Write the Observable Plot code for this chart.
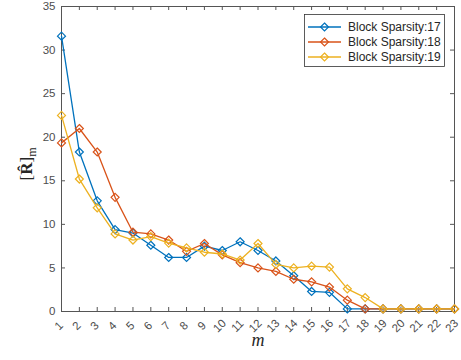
<!DOCTYPE html>
<html>
<head>
<meta charset="utf-8">
<script src="https://cdn.jsdelivr.net/npm/d3@7"></script>
<script src="https://cdn.jsdelivr.net/npm/@observablehq/plot@0.6"></script>
<style>
  html, body { margin: 0; padding: 0; background: #fff; }
  svg { display: block; }
</style>
</head>
<body>
<div id="chart"></div>
<script>
const ms = [1,2,3,4,5,6,7,8,9,10,11,12,13,14,15,16,17,18,19,20,21,22,23];
const seriesNames = ["Block Sparsity:17", "Block Sparsity:18", "Block Sparsity:19"];
const colors = ["#0072BD", "#D95319", "#EDB120"];
const s17 = [31.6, 18.3, 12.7, 9.4, 9.0, 7.6, 6.2, 6.2, 7.5, 7.0, 8.0, 7.0, 5.8, 4.1, 2.3, 2.2, 0.3, 0.3, 0.3, 0.3, 0.3, 0.3, 0.3];
const s18 = [19.35, 21.0, 18.3, 13.1, 9.1, 8.9, 8.2, 6.9, 7.8, 6.5, 5.6, 5.0, 4.6, 3.7, 3.4, 2.8, 1.3, 0.3, 0.3, 0.3, 0.3, 0.3, 0.3];
const s19 = [22.5, 15.2, 11.9, 8.9, 8.2, 8.6, 7.85, 7.3, 6.8, 6.6, 5.9, 7.8, 5.4, 5.0, 5.2, 5.1, 2.6, 1.6, 0.3, 0.3, 0.3, 0.3, 0.3];
const yTicks = [0, 5, 10, 15, 20, 25, 30, 35];

const allValues = [s17, s18, s19];
const data = [];
allValues.forEach((vals, i) => vals.forEach((v, j) => data.push({m: ms[j], v, s: seriesNames[i]})));

const axisColor = "#555";
const labelColor = "#4d4d4d";
const font = "'Liberation Sans', Arial, Helvetica, sans-serif";

const seriesMarks = [];
seriesNames.forEach((name) => {
  const d = data.filter(r => r.s === name);
  seriesMarks.push(Plot.line(d, {x: "m", y: "v", stroke: "s", strokeWidth: 1.3}));
  seriesMarks.push(Plot.dot(d, {x: "m", y: "v", stroke: "s", symbol: "diamond2", r: 3.6, fill: "none", strokeWidth: 1.2}));
});

const chart = Plot.plot({
  width: 461,
  height: 360,
  marginLeft: 61,
  marginRight: 7,
  marginTop: 6,
  marginBottom: 49,
  style: {fontFamily: font, background: "#fff"},
  x: {domain: [1, 23], axis: null},
  y: {domain: [0, 35], axis: null},
  color: {domain: seriesNames, range: colors},
  marks: [
    Plot.tickX(ms, {x: d => d, insetTop: 301, stroke: axisColor, strokeWidth: 1}),
    Plot.tickX(ms, {x: d => d, insetBottom: 301, stroke: axisColor, strokeWidth: 1}),
    Plot.tickY(yTicks, {y: d => d, insetRight: 389, stroke: axisColor, strokeWidth: 1}),
    Plot.tickY(yTicks, {y: d => d, insetLeft: 389, stroke: axisColor, strokeWidth: 1}),
    Plot.frame({stroke: axisColor, strokeWidth: 1}),
    Plot.text(yTicks, {y: d => d, text: d => String(d), frameAnchor: "left", dx: -6, textAnchor: "end", fill: labelColor, fontSize: 11.5}),
    Plot.text(ms, {x: d => d, text: d => String(d), frameAnchor: "bottom", dy: 17, rotate: -45, textAnchor: "middle", fill: labelColor, fontSize: 11.5}),
    Plot.text(["m"], {text: d => d, frameAnchor: "bottom", dy: 34, fontStyle: "italic", fontFamily: "'Liberation Serif', 'DejaVu Serif', serif", fontSize: 18, fill: "#262626"}),
    ...seriesMarks
  ]
});

document.getElementById("chart").appendChild(chart);

const svg = d3.select(chart);

// y-axis label: [R̂]_m
const yl = svg.append("text")
  .attr("transform", "translate(32,164) rotate(-90)")
  .attr("text-anchor", "middle")
  .attr("font-family", "'Liberation Serif', 'DejaVu Serif', serif")
  .attr("font-size", 17)
  .attr("fill", "#262626");
yl.append("tspan").text("[");
yl.append("tspan").attr("font-weight", "bold").text("R\u0302");
yl.append("tspan").text("]");
yl.append("tspan").attr("font-size", 12).attr("dy", 4).text("m");

// legend
const lg = svg.append("g").attr("font-family", font).attr("font-size", 12).attr("text-anchor", "start");
lg.append("rect").attr("x", 304.5).attr("y", 14.5).attr("width", 140).attr("height", 52)
  .attr("fill", "#fff").attr("stroke", "#333").attr("stroke-width", 0.8);
const rowY = [27, 42, 57];
const diamond = d3.symbol(d3.symbolDiamond2, Math.PI * 3.6 * 3.6);
seriesNames.forEach((name, i) => {
  const y = rowY[i];
  lg.append("line").attr("x1", 308).attr("x2", 341).attr("y1", y).attr("y2", y)
    .attr("stroke", colors[i]).attr("stroke-width", 1.3);
  lg.append("path").attr("d", diamond()).attr("transform", `translate(324.5,${y})`)
    .attr("fill", "none").attr("stroke", colors[i]).attr("stroke-width", 1.2);
  lg.append("text").attr("x", 348).attr("y", y).attr("dy", "0.35em")
    .attr("text-anchor", "start").attr("fill", "#262626").text(name);
});
</script>
</body>
</html>
